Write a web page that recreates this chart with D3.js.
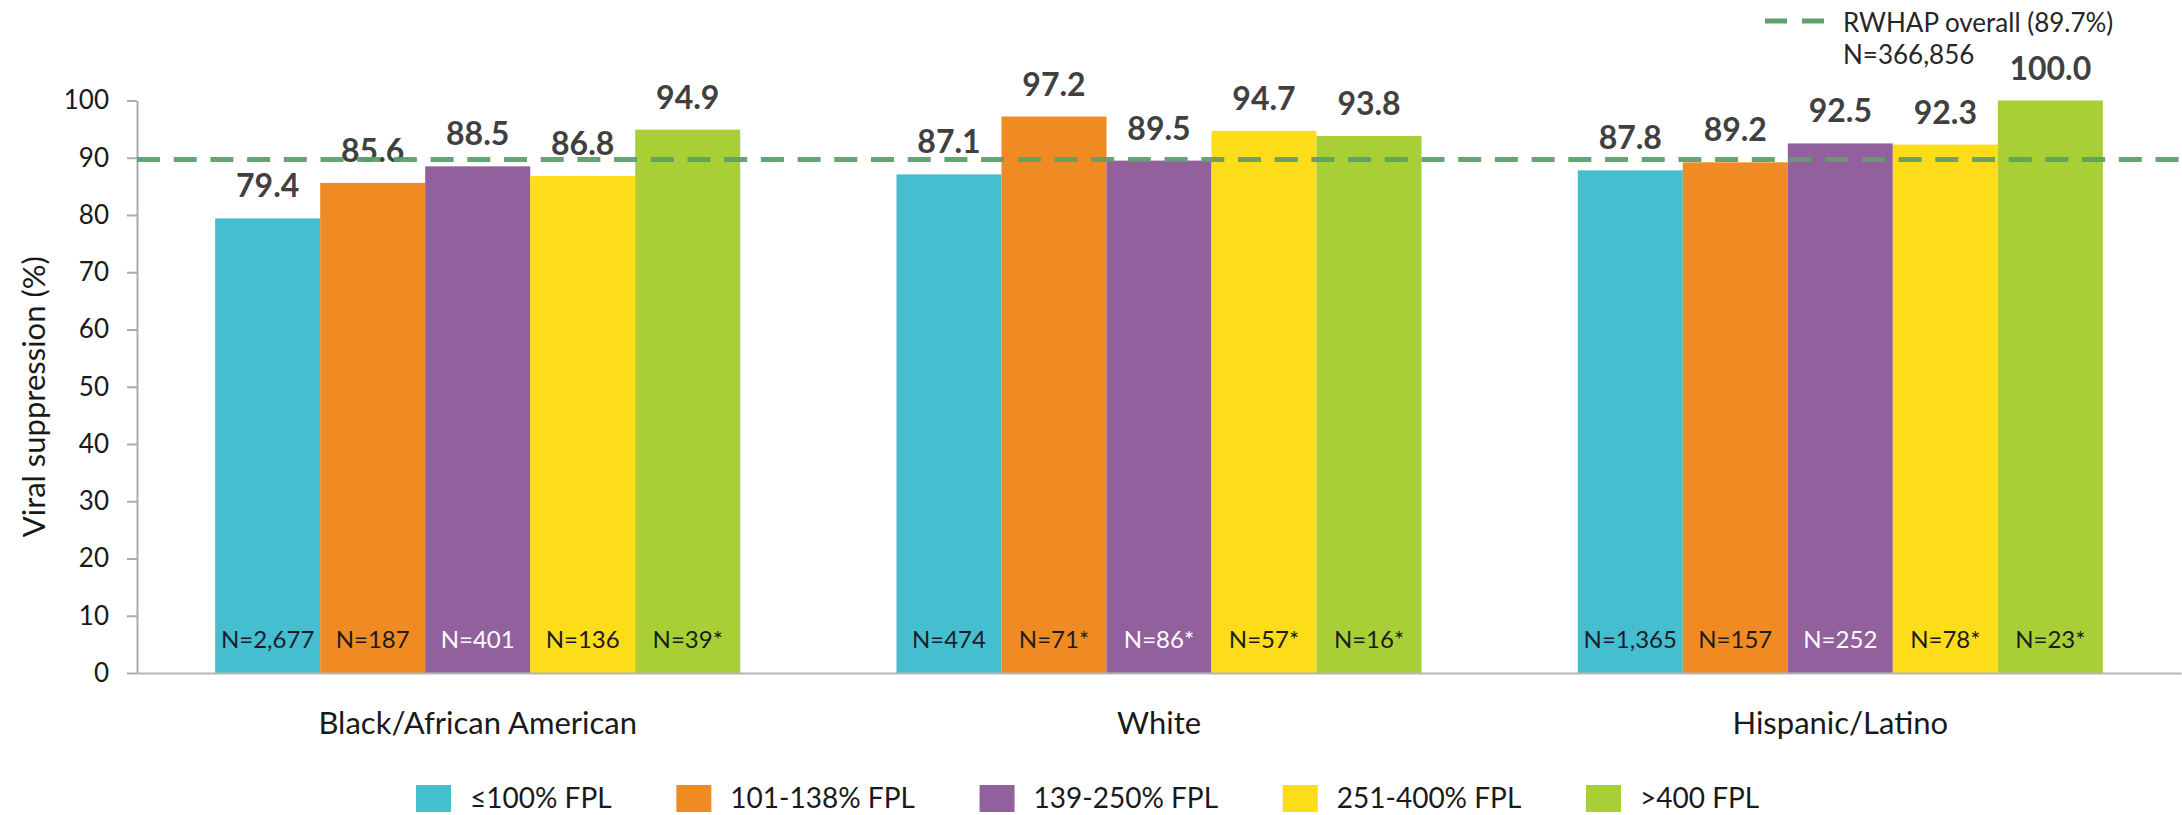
<!DOCTYPE html>
<html>
<head>
<meta charset="utf-8">
<script src="https://cdn.jsdelivr.net/npm/d3@7"></script>
<style>
  html, body { margin: 0; padding: 0; background: #ffffff; }
  svg { display: block; }
  text { font-family: Lato, "Open Sans", sans-serif; }
</style>
</head>
<body>
<svg id="chart" width="2182" height="815"></svg>
<script>
// ---- data ----
const categories = ["Black/African American", "White", "Hispanic/Latino"];
const seriesNames = ["≤100% FPL", "101-138% FPL", "139-250% FPL", "251-400% FPL", ">400 FPL"];
const seriesColors = ["#45BFCF", "#F08B23", "#92609D", "#FDDC1A", "#A9CF37"];
const nLabelColors = ["#1b1b2b", "#1b1b1b", "#ffffff", "#1b1b1b", "#1b1b1b"];
const valuesBlack = [79.4, 85.6, 88.5, 86.8, 94.9];
const valuesWhite = [87.1, 97.2, 89.5, 94.7, 93.8];
const valuesHispanic = [87.8, 89.2, 92.5, 92.3, 100.0];
const nBlack = ["N=2,677", "N=187", "N=401", "N=136", "N=39*"];
const nWhite = ["N=474", "N=71*", "N=86*", "N=57*", "N=16*"];
const nHispanic = ["N=1,365", "N=157", "N=252", "N=78*", "N=23*"];
const yTicks = [0, 10, 20, 30, 40, 50, 60, 70, 80, 90, 100];
const refValue = 89.7;
const refLabel = "RWHAP overall (89.7%)";
const refN = "N=366,856";
const yTitle = "Viral suppression (%)";

const valuesByCat = [valuesBlack, valuesWhite, valuesHispanic];
const nByCat = [nBlack, nWhite, nHispanic];

// ---- layout ----
const svg = d3.select("#chart");
const mLeft = 137, mRight = 2181, mTop = 100.5, mBottom = 673;

const x0 = d3.scaleBand().domain(categories).range([mLeft, mRight])
  .paddingInner(0.2293).paddingOuter(0.1147);
const x1 = d3.scaleBand().domain(seriesNames).range([0, x0.bandwidth()]).padding(0);
const y = d3.scaleLinear().domain([0, 100]).range([mBottom, mTop]);
const color = d3.scaleOrdinal().domain(seriesNames).range(seriesColors);

// bars
const groups = svg.append("g").selectAll("g")
  .data(categories.map((c, i) => ({ cat: c, vals: valuesByCat[i], ns: nByCat[i] })))
  .join("g")
  .attr("transform", d => `translate(${x0(d.cat)},0)`);

const cells = d => seriesNames.map((s, j) => ({ s, v: d.vals[j], n: d.ns[j], j }));

groups.selectAll("rect")
  .data(cells)
  .join("rect")
  .attr("x", d => x1(d.s))
  .attr("y", d => y(d.v))
  .attr("width", x1.bandwidth())
  .attr("height", d => y(0) - y(d.v))
  .attr("fill", d => color(d.s));

// value labels
groups.selectAll("text.val")
  .data(cells)
  .join("text")
  .attr("class", "val")
  .attr("x", d => x1(d.s) + x1.bandwidth() / 2)
  .attr("y", d => y(d.v) - 21)
  .attr("text-anchor", "middle")
  .attr("font-size", 32)
  .attr("font-weight", 700)
  .attr("fill", "#404040")
  .text(d => d.v.toFixed(1));

// N labels
groups.selectAll("text.n")
  .data(cells)
  .join("text")
  .attr("class", "n")
  .attr("x", d => x1(d.s) + x1.bandwidth() / 2)
  .attr("y", mBottom - 25)
  .attr("text-anchor", "middle")
  .attr("font-size", 24)
  .attr("fill", d => nLabelColors[d.j])
  .text(d => d.n);

// y axis
const yAxis = svg.append("g")
  .attr("transform", `translate(${mLeft},0)`)
  .call(d3.axisLeft(y).tickValues(yTicks).tickSize(10).tickPadding(18).tickSizeOuter(0));
yAxis.select(".domain").attr("stroke", "#ababab").attr("stroke-width", 2);
yAxis.selectAll(".tick line").attr("stroke", "#ababab").attr("stroke-width", 2);
yAxis.selectAll(".tick text")
  .attr("font-size", 26).attr("fill", "#1a1a1a")
  .attr("font-family", "Lato, sans-serif");

// x axis
const xAxis = svg.append("g")
  .attr("transform", `translate(0,${mBottom})`)
  .call(d3.axisBottom(x0).tickSize(0).tickPadding(36).tickSizeOuter(0));
xAxis.select(".domain").attr("stroke", "#b5b5b5").attr("stroke-width", 2);
xAxis.selectAll(".tick text")
  .attr("font-size", 31).attr("fill", "#1a1a1a")
  .attr("font-family", "Lato, sans-serif")
  .attr("dy", null).attr("y", 61);

// reference line
svg.append("line")
  .attr("x1", mLeft).attr("x2", mRight)
  .attr("y1", y(refValue)).attr("y2", y(refValue))
  .attr("stroke", "#5f9f6c").attr("stroke-width", 5)
  .attr("stroke-dasharray", "23,13.7")
  .attr("opacity", 0.95);

// y title
svg.append("text")
  .attr("transform", `translate(33,${(mTop + mBottom) / 2 + 10}) rotate(-90)`)
  .attr("text-anchor", "middle")
  .attr("dominant-baseline", "central")
  .attr("font-size", 31)
  .attr("fill", "#1a1a1a")
  .text(yTitle);

// top-right reference legend
const rl = svg.append("g");
rl.append("line")
  .attr("x1", 1765).attr("x2", 1824).attr("y1", 21).attr("y2", 21)
  .attr("stroke", "#5f9f6c").attr("stroke-width", 5)
  .attr("stroke-dasharray", "22,15");
rl.append("text").attr("x", 1843).attr("y", 32)
  .attr("font-size", 26).attr("fill", "#262626").text(refLabel);
rl.append("text").attr("x", 1843).attr("y", 64)
  .attr("font-size", 26).attr("fill", "#262626").text(refN);

// bottom legend: flow items between the first and last swatch positions
const lg = svg.append("g");
const legStart = 416, legLastSwatch = 1586, swGap = 54;
const texts = seriesNames.map(s =>
  lg.append("text").attr("y", 808).attr("font-size", 28).attr("fill", "#1a1a1a").text(s));
const widths = texts.map(t => t.node().getComputedTextLength());
const sumW = d3.sum(widths.slice(0, seriesNames.length - 1));
const gap = (legLastSwatch - legStart - (seriesNames.length - 1) * swGap - sumW) / (seriesNames.length - 1);
let lx = legStart;
seriesNames.forEach((s, i) => {
  lg.append("rect").attr("x", lx).attr("y", 785).attr("width", 35).attr("height", 27)
    .attr("fill", color(s));
  texts[i].attr("x", lx + swGap);
  lx = lx + swGap + widths[i] + gap;
});
</script>
</body>
</html>
